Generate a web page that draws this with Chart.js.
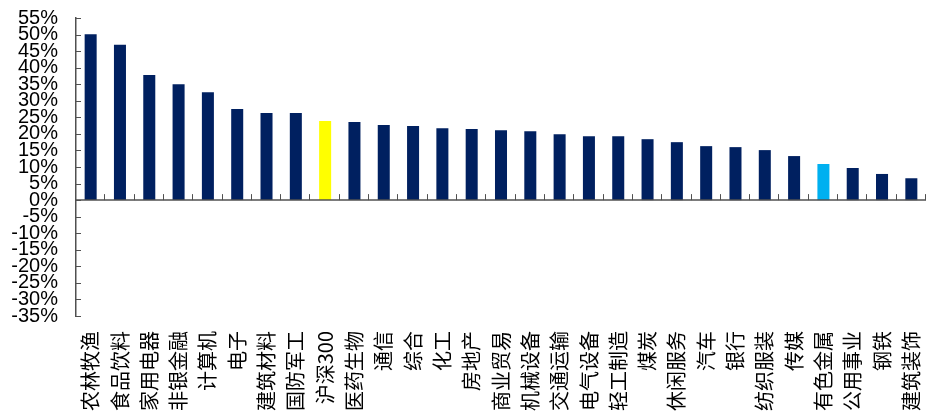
<!DOCTYPE html>
<html><head><meta charset="utf-8">
<script src="https://cdn.jsdelivr.net/npm/chart.js@4/dist/chart.umd.min.js"></script>
<style>html,body{margin:0;padding:0;background:#fff;overflow:hidden}#wrap{width:926px;height:414px;position:relative}</style>
</head><body><div id="wrap"><canvas id="c"></canvas></div>
<script>
const categories = ['农林牧渔','食品饮料','家用电器','非银金融','计算机','电子','建筑材料','国防军工','沪深300','医药生物','通信','综合','化工','房地产','商业贸易','机械设备','交通运输','电气设备','轻工制造','煤炭','休闲服务','汽车','银行','纺织服装','传媒','有色金属','公用事业','钢铁','建筑装饰'];
const values = [50.1,46.9,37.8,35.0,32.6,27.5,26.3,26.3,23.9,23.6,22.7,22.4,21.7,21.5,21.1,20.8,19.9,19.3,19.3,18.4,17.5,16.3,16.0,15.1,13.3,10.9,9.7,7.9,6.6];
const highlightYellow = ['沪深300'];
const highlightBlue = ['有色金属'];
const yMin = -35, yMax = 55, yStep = 5;

const NAVY = '#002060', YELLOW = '#FFFF00', BLUE = '#00B0F0', AXIS = '#505050';
const barColors = categories.map(c => highlightYellow.includes(c) ? YELLOW : (highlightBlue.includes(c) ? BLUE : NAVY));

const axisPlugin = {
  id: 'axisPlugin',
  afterDatasetsDraw(chart) {
    const {ctx} = chart;
    const x = chart.scales.x, y = chart.scales.y;
    const y0 = y.getPixelForValue(0);
    ctx.save();
    ctx.strokeStyle = AXIS;
    ctx.lineWidth = 1.5;
    ctx.beginPath();
    ctx.moveTo(x.left, y0); ctx.lineTo(x.right, y0);
    ctx.stroke();
    const half = (x.getPixelForValue(1) - x.getPixelForValue(0)) / 2;
    ctx.lineWidth = 1;
    ctx.beginPath();
    for (let i = 0; i <= categories.length; i++) {
      const px = Math.round(x.getPixelForValue(i) - half) - 0.5;
      ctx.moveTo(px, y0); ctx.lineTo(px, y0 - 6);
    }
    y.ticks.forEach(t => {
      const py = Math.round(y.getPixelForValue(t.value)) + 0.5;
      ctx.moveTo(y.right, py); ctx.lineTo(y.right + 5, py);
    });
    ctx.stroke();
    ctx.restore();
  }
};

new Chart(document.getElementById('c'), {
  type: 'bar',
  data: {
    labels: categories,
    datasets: [{ data: values, backgroundColor: barColors, borderWidth: 0, barPercentage: 0.82, categoryPercentage: 0.5 }]
  },
  options: {
    responsive: true,
    maintainAspectRatio: false,
    animation: false,
    layout: { padding: { left: 0, top: 18, right: 0, bottom: 0 } },
    plugins: { legend: { display: false }, tooltip: { enabled: false } },
    scales: {
      x: {
        grid: { display: false, drawTicks: false },
        border: { display: false },
        afterFit: s => { s.height = 98; s.paddingLeft = 0; s.paddingRight = 0; },
        ticks: { autoSkip: false, minRotation: 90, maxRotation: 90, padding: 15, color: '#000',
          font: { family: '"Noto Sans CJK SC", "Liberation Sans", sans-serif', size: 20, lineHeight: 1 } }
      },
      y: {
        min: yMin, max: yMax,
        grid: { display: false, drawTicks: false },
        border: { display: true, color: AXIS, width: 1.5 },
        afterFit: s => { s.width = 76; s.paddingTop = 0; s.paddingBottom = 0; },
        ticks: { stepSize: yStep, autoSkip: false, padding: 18, color: '#000',
          font: { family: '"Liberation Sans", Arial, sans-serif', size: 20, lineHeight: 1 },
          callback: v => v + '%' }
      }
    }
  },
  plugins: [axisPlugin]
});
</script>
</body></html>
